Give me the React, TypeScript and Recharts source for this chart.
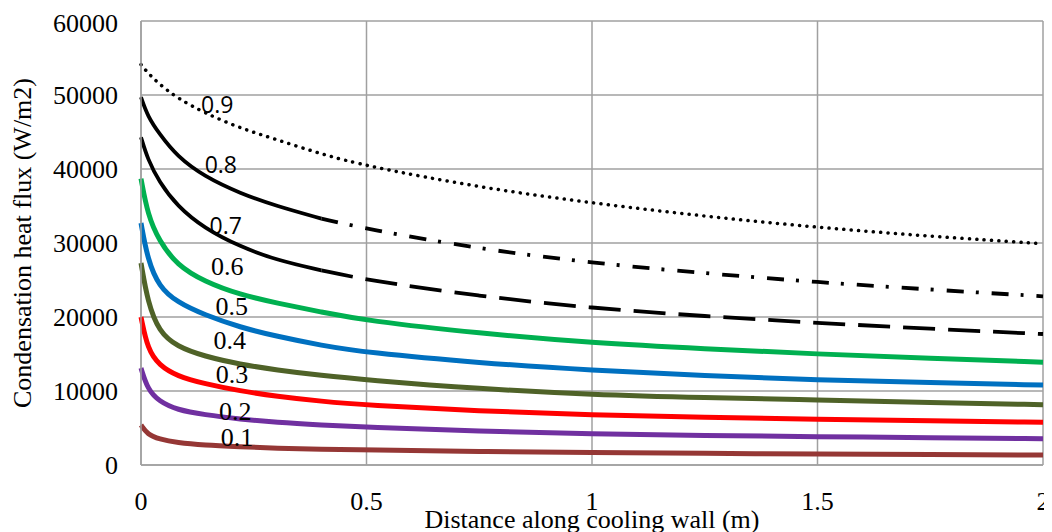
import React from "react";
import {
  LineChart,
  Line,
  XAxis,
  YAxis,
  CartesianGrid,
  ReferenceDot,
} from "recharts";

// distance along cooling wall (m)
const distance = [0, 0.015, 0.04, 0.08, 0.14, 0.22, 0.3, 0.4, 0.5, 0.75, 1, 1.25, 1.5, 1.75, 2];

// condensation heat flux (W/m2), one list per curve
const flux09 = [54100, 53000, 51500, 49600, 47600, 45500, 44000, 42000, 40400, 37500, 35400, 33600, 32100, 30900, 29900];
const flux08 = [49700, 47100, 44800, 41700, 39000, 36700, 35000, 33300, 31900, 29200, 27300, 25900, 24700, 23700, 22800];
const flux07 = [44300, 41300, 38300, 35000, 32000, 29500, 27700, 26300, 25000, 22800, 21200, 20100, 19200, 18400, 17700];
const flux06 = [38700, 33800, 30300, 27000, 24800, 23000, 21900, 20650, 19500, 17800, 16500, 15700, 15000, 14400, 13900];
const flux05 = [32700, 27700, 24100, 22000, 20300, 18600, 17400, 16150, 15200, 13800, 12800, 12050, 11500, 11150, 10800];
const flux04 = [27300, 22000, 18000, 16000, 14700, 13600, 12850, 12100, 11500, 10300, 9500, 9100, 8800, 8450, 8150];
const flux03 = [20000, 15600, 13500, 12000, 11000, 10000, 9300, 8600, 8100, 7300, 6770, 6450, 6180, 5970, 5780];
const flux02 = [13100, 10200, 8600, 7450, 6800, 6200, 5750, 5400, 5100, 4550, 4190, 3990, 3830, 3690, 3560];
const flux01 = [5400, 4100, 3500, 3020, 2700, 2480, 2260, 2130, 2030, 1820, 1670, 1570, 1490, 1420, 1350];

// 0.8 and 0.7 change from solid to broken lines here
const splitAt = 0.4;

const xTicks = [0, 0.5, 1, 1.5, 2];
const yTicks = [0, 10000, 20000, 30000, 40000, 50000, 60000];

// curve labels: text, x, y (in data units)
const labelText = ["0.9", "0.8", "0.7", "0.6", "0.5", "0.4", "0.3", "0.2", "0.1"];
const labelX = [0.169, 0.177, 0.188, 0.191, 0.201, 0.197, 0.202, 0.209, 0.213];
const labelY = [48700, 40600, 32300, 26860, 21500, 16900, 12300, 7300, 3860];

const data = distance.map((x, i) => ({
  x,
  f09: flux09[i],
  f08a: x <= splitAt ? flux08[i] : undefined,
  f08b: x >= splitAt ? flux08[i] : undefined,
  f07a: x <= splitAt ? flux07[i] : undefined,
  f07b: x >= splitAt ? flux07[i] : undefined,
  f06: flux06[i],
  f05: flux05[i],
  f04: flux04[i],
  f03: flux03[i],
  f02: flux02[i],
  f01: flux01[i],
}));

const serif = "'Liberation Serif', 'Times New Roman', serif";
const sans = "'Open Sans', 'DejaVu Sans', sans-serif";
const gridColor = "#A0A0A0";
const curve = "basis";

export default function App() {
  return (
    <div style={{ width: 1044, height: 524 }}>
      <style>{"body { overflow: hidden; } .recharts-surface { overflow: visible !important; }"}</style>
      <LineChart
        width={1044}
        height={524}
        data={data}
        margin={{ top: 13, right: 9, bottom: 0, left: 0 }}
      >
        <CartesianGrid stroke={gridColor} strokeWidth={1.5} />
        <XAxis
          dataKey="x"
          type="number"
          domain={[0, 2]}
          ticks={xTicks}
          height={67}
          tickLine={false}
          tickMargin={21}
          interval={0}
          axisLine={{ stroke: gridColor, strokeWidth: 1.5 }}
          tick={{ fill: "#000", fontFamily: serif, fontSize: 26 }}
          label={{
            value: "Distance along cooling wall (m)",
            position: "insideBottom",
            offset: 4,
            style: { fill: "#000", fontFamily: serif, fontSize: 26 },
          }}
        />
        <YAxis
          type="number"
          domain={[0, 60000]}
          ticks={yTicks}
          width={133}
          tickLine={false}
          tickMargin={17}
          axisLine={{ stroke: gridColor, strokeWidth: 1.5 }}
          tick={{ fill: "#000", fontFamily: serif, fontSize: 26 }}
          label={{
            value: "Condensation heat flux (W/m2)",
            angle: -90,
            position: "insideLeft",
            offset: 14,
            style: { fill: "#000", fontFamily: serif, fontSize: 26, textAnchor: "middle" },
          }}
        />

        <Line type={curve} dataKey="f01" stroke="#953735" strokeWidth={5} dot={false} isAnimationActive={false} />
        <Line type={curve} dataKey="f02" stroke="#7030A0" strokeWidth={5} dot={false} isAnimationActive={false} />
        <Line type={curve} dataKey="f03" stroke="#FF0000" strokeWidth={5} dot={false} isAnimationActive={false} />
        <Line type={curve} dataKey="f04" stroke="#4F6228" strokeWidth={5} dot={false} isAnimationActive={false} />
        <Line type={curve} dataKey="f05" stroke="#0070C0" strokeWidth={5} dot={false} isAnimationActive={false} />
        <Line type={curve} dataKey="f06" stroke="#00B050" strokeWidth={5} dot={false} isAnimationActive={false} />
        <Line type={curve} dataKey="f07a" stroke="#000" strokeWidth={3.8} dot={false} isAnimationActive={false} />
        <Line type={curve} dataKey="f07b" stroke="#000" strokeWidth={3.8} strokeDasharray="32 13" dot={false} isAnimationActive={false} />
        <Line type={curve} dataKey="f08a" stroke="#000" strokeWidth={3.8} dot={false} isAnimationActive={false} />
        <Line type={curve} dataKey="f08b" stroke="#000" strokeWidth={3.8} strokeDasharray="17 12 3 13" dot={false} isAnimationActive={false} />
        <Line
          type={curve}
          dataKey="f09"
          stroke="#000"
          strokeWidth={3.5}
          strokeDasharray="0.1 7.3"
          strokeLinecap="round"
          dot={false}
          isAnimationActive={false}
        />

        {labelText.map((t, i) => (
          <ReferenceDot
            key={t}
            x={labelX[i]}
            y={labelY[i]}
            r={0}
            stroke="none"
            fill="none"
            label={{
              value: t,
              position: "center",
              style: {
                fill: "#000",
                fontFamily: i < 3 ? sans : serif,
                fontSize: i < 3 ? 23 : 26,
              },
            }}
          />
        ))}
      </LineChart>
    </div>
  );
}
